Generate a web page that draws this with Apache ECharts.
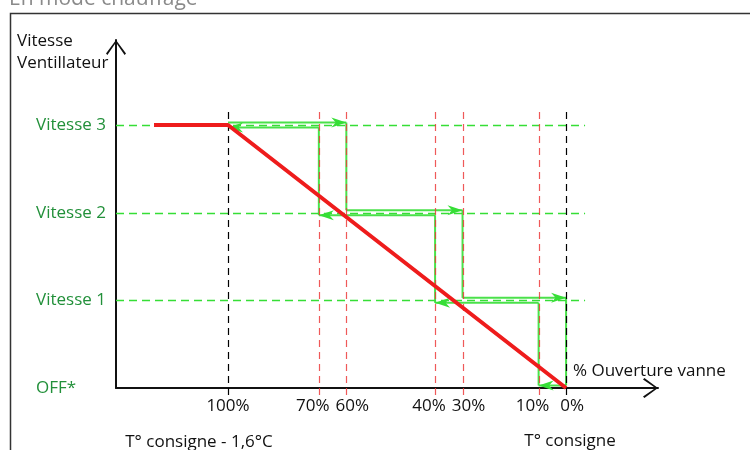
<!DOCTYPE html>
<html>
<head>
<meta charset="utf-8">
<script src="https://cdn.jsdelivr.net/npm/echarts@6/dist/echarts.min.js"></script>
<style>
  html, body { margin: 0; padding: 0; background: #fff; }
  #chart { width: 750px; height: 450px; }
</style>
</head>
<body>
<div id="chart"></div>
<script>
// Régulation de la vitesse du ventilateur en mode chauffage

// Niveaux de vitesse (axe vertical)
const vitesses = ['OFF*', 'Vitesse 1', 'Vitesse 2', 'Vitesse 3'];
// Graduations d'ouverture de vanne (axe horizontal)
const ouvertures = ['100%', '70%', '60%', '40%', '30%', '10%', '0%'];
// Écart à la consigne (°C) de chaque graduation
const ecarts = [-1.6, -1.17, -1.04, -0.62, -0.49, -0.13, 0];
// Graduations de borne (tracées en noir), les autres sont des seuils
const bornes = ['100%', '0%'];
// Passage à la vitesse supérieure : OFF→1, 1→2, 2→3
const seuilsMontee = ['10%', '40%', '70%'];
// Passage à la vitesse inférieure : 3→2, 2→1, 1→OFF
const seuilsDescente = ['60%', '30%', '0%'];
// Courbe d'ouverture de vanne
const vanneEcart = [-1.95, -1.6, 0];
const vanneNiveau = [3, 3, 0];

const pos = lbl => ecarts[ouvertures.indexOf(lbl)];
const nivMax = vitesses.length - 1;

const VERT = '#36de36';
const VERT_TEXTE = '#22903a';
const ROUGE = '#ee1c1c';
const FONT = '"Open Sans", "Noto Sans", sans-serif';

// Segments des deux chemins d'hystérésis : [x1, niv1, x2, niv2, chemin, flèche]
const segments = [];
{
  // chemin 0 : vitesse décroissante (vers la droite)
  let x = pos('100%');
  for (let n = nivMax; n >= 1; n--) {
    const xs = pos(seuilsDescente[nivMax - n]);
    segments.push([x, n, xs, n, 0, 1]);
    segments.push([xs, n, xs, n - 1, 0, 0]);
    x = xs;
  }
  // chemin 1 : vitesse croissante (vers la gauche)
  x = pos('0%');
  for (let n = 0; n <= nivMax; n++) {
    const xs = n < nivMax ? pos(seuilsMontee[n]) : pos('100%');
    segments.push([x, n, xs, n, 1, 1]);
    if (n < nivMax) segments.push([xs, n, xs, n + 1, 1, 0]);
    x = xs;
  }
}
// écart en pixels des deux chemins autour de la ligne de niveau
const decal = (chemin, niv) => (chemin === 0 || niv === 0) ? -2.5 : 2.5;

// décalage horizontal des étiquettes trop proches
const placement = { '70%': 'l', '40%': 'l', '10%': 'l', '60%': 'r', '30%': 'r', '0%': 'r' };

const chart = echarts.init(document.getElementById('chart'), null, { renderer: 'canvas' });

const chevron = 'path://M0,13.6 L10,0 L20,13.6 L18.6,15 L10,2.6 L1.4,15 Z';

chart.setOption({
  animation: false,
  textStyle: { fontFamily: FONT },
  grid: { left: 116, right: 92, top: 40, bottom: 62, containLabel: false, outerBoundsMode: 'none' },
  xAxis: {
    type: 'value',
    min: -2.13,
    max: 0.435,
    name: '% Ouverture vanne',
    nameLocation: 'end',
    nameGap: -85,
    nameTextStyle: { fontSize: 17, color: '#111', align: 'left', verticalAlign: 'bottom', padding: [0, 0, 8, 0], fontFamily: FONT },
    axisLine: {
      show: true,
      onZero: false,
      lineStyle: { color: '#111', width: 2 },
      symbol: ['none', chevron],
      symbolSize: [20, 15],
      symbolOffset: [0, -7.5]
    },
    axisTick: { show: false },
    splitLine: { show: false },
    axisLabel: {
      customValues: ecarts,
      margin: 10,
      fontSize: 17,
      color: '#111',
      formatter: v => {
        const lbl = ouvertures[ecarts.indexOf(v)];
        const k = placement[lbl] || 'c';
        return '{' + k + '|' + lbl + '}';
      },
      rich: {
        l: { fontSize: 17, color: '#111', padding: [0, 12, 0, 0] },
        r: { fontSize: 17, color: '#111', padding: [0, 0, 0, 12] },
        c: { fontSize: 17, color: '#111' }
      }
    }
  },
  yAxis: {
    type: 'value',
    min: 0,
    max: 3.97,
    axisLine: {
      show: true,
      onZero: false,
      lineStyle: { color: '#111', width: 2 },
      symbol: ['none', chevron],
      symbolSize: [20, 15],
      symbolOffset: [0, -7.5]
    },
    axisTick: { show: false },
    splitLine: { show: false },
    axisLabel: {
      customValues: [0, 1, 2, 3],
      formatter: v => vitesses[v],
      color: VERT_TEXTE,
      fontSize: 17,
      align: 'left',
      margin: 80
    }
  },
  graphic: [
    { type: 'rect', shape: { x: 10.5, y: 13.5, width: 800, height: 500 },
      style: { fill: 'none', stroke: '#333', lineWidth: 1.5 } },
    { type: 'text', x: 9, y: -11,
      style: { text: 'En mode chauffage', fontSize: 21, fontFamily: FONT, fill: '#8a8a8a', verticalAlign: 'top' } },
    { type: 'text', x: 17, y: 30,
      style: { text: 'Vitesse\nVentillateur', fontSize: 17, lineHeight: 22, fontFamily: FONT, fill: '#111', verticalAlign: 'top' } },
    { type: 'text', x: 199, y: 442,
      style: { text: 'T° consigne - 1,6°C', fontSize: 17, fontFamily: FONT, fill: '#111', align: 'center', verticalAlign: 'middle' } },
    { type: 'text', x: 570, y: 441,
      style: { text: 'T° consigne', fontSize: 17, fontFamily: FONT, fill: '#111', align: 'center', verticalAlign: 'middle' } }
  ],
  series: [
    {
      // lignes de niveau de vitesse
      type: 'custom',
      z: 1,
      silent: true,
      data: [1, 2, 3].map(n => [pos('0%'), n]),
      encode: { x: 0, y: 1 },
      renderItem: (params, api) => {
        const n = api.value(1);
        const left = api.coord([-2.13, n]);
        const right = api.coord([api.value(0), n]);
        const py = Math.round(left[1]) + 0.5;
        return {
          type: 'line',
          shape: { x1: left[0], y1: py, x2: right[0] + 19, y2: py },
          style: { stroke: VERT, lineWidth: 1.4, lineDash: [8, 5] }
        };
      }
    },
    {
      // chemins d'hystérésis
      type: 'custom',
      z: 2,
      silent: true,
      data: segments,
      encode: { x: [0, 2], y: [1, 3] },
      renderItem: (params, api) => {
        const chemin = api.value(4);
        const n1 = api.value(1), n2 = api.value(3);
        const a = api.coord([api.value(0), n1]);
        const b = api.coord([api.value(2), n2]);
        a[1] += decal(chemin, n1);
        b[1] += decal(chemin, n2);
        const children = [{
          type: 'line',
          shape: { x1: a[0], y1: a[1], x2: b[0], y2: b[1] },
          style: { stroke: VERT, lineWidth: 2, opacity: 0.9 }
        }];
        if (api.value(5)) {
          const d = Math.sign(b[0] - a[0]);
          const L = 15, W = 5, N = 10.5;
          children.push({
            type: 'polygon',
            shape: { points: [[b[0], b[1]], [b[0] - d * L, b[1] - W], [b[0] - d * N, b[1]], [b[0] - d * L, b[1] + W]] },
            style: { fill: VERT }
          });
        }
        return { type: 'group', children };
      }
    },
    {
      // repères verticaux des graduations
      type: 'custom',
      z: 3,
      silent: true,
      data: ecarts.map((x, i) => [x, i]),
      encode: { x: 0 },
      renderItem: (params, api) => {
        const x = api.value(0);
        const hi = api.coord([x, nivMax]);
        const lo = api.coord([x, 0]);
        const lbl = ouvertures[api.value(1)];
        const px = Math.round(hi[0]) + 0.5;
        const borne = bornes.includes(lbl);
        return {
          type: 'line',
          shape: { x1: px, y1: hi[1] - 13, x2: px, y2: lo[1] + 8 },
          style: { stroke: borne ? '#000' : '#ec3c3c', opacity: borne ? 1 : 0.85, lineWidth: 1.2, lineDash: [7, 5] }
        };
      }
    },
    {
      // courbe de vanne
      type: 'line',
      z: 4,
      silent: true,
      symbol: 'none',
      data: vanneEcart.map((x, i) => [x, vanneNiveau[i]]),
      lineStyle: { color: ROUGE, width: 4 }
    }
  ]
});
</script>
</body>
</html>
